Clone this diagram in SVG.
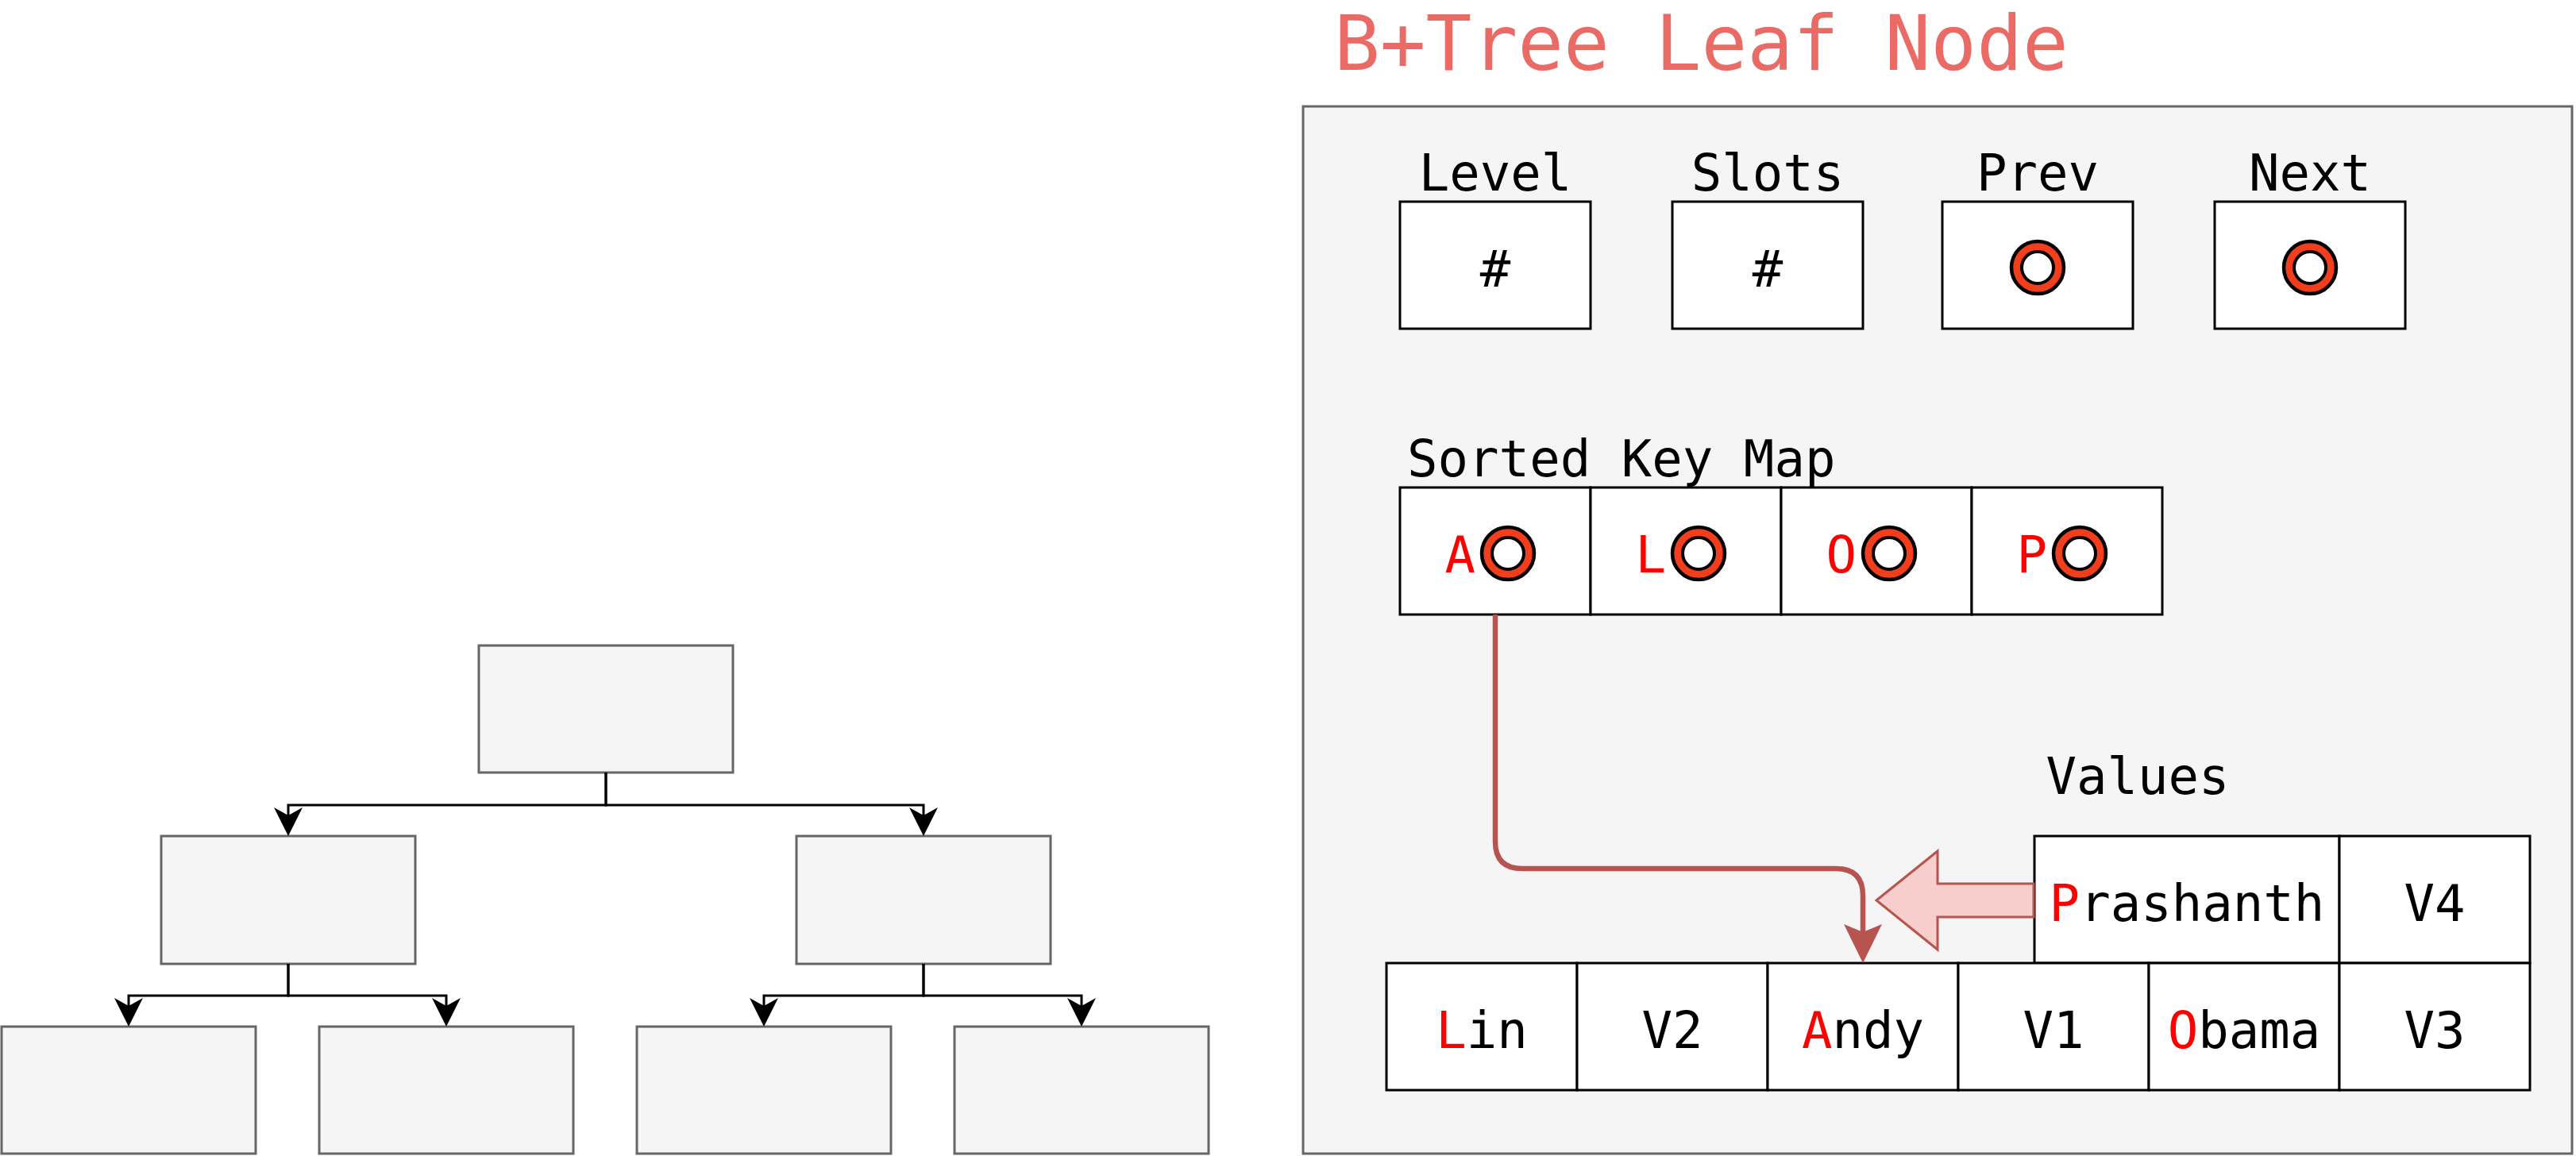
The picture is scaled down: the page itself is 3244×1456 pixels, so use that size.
<svg xmlns="http://www.w3.org/2000/svg" width="3244" height="1456" viewBox="0 0 3244 1456">
<style>
.tree{fill:#f5f5f5;stroke:#666666;stroke-width:3}
.cell{fill:#ffffff;stroke:#000000;stroke-width:3}
.t{font-family:"DejaVu Sans Mono","Liberation Mono",monospace;font-size:64px;fill:#000000}
.mid{text-anchor:middle}
.r{fill:#ff0000}
.ring{fill:#f23e1c;stroke:#000000;stroke-width:4.5}
.hole{fill:#ffffff;stroke:#000000;stroke-width:4}
.edge{fill:none;stroke:#000000;stroke-width:3}
.redge{fill:none;stroke:#b85450;stroke-width:6.5}
</style>
<defs>
<marker id="ah" viewBox="0 0 36 36" markerWidth="36" markerHeight="36" refX="10" refY="18" orient="auto" markerUnits="userSpaceOnUse">
<path d="M0,0 L36,18 L0,36 L10,18 Z" fill="#000000"/>
</marker>
<marker id="rah" viewBox="0 0 49 48" markerWidth="49" markerHeight="48" refX="10" refY="24" orient="auto" markerUnits="userSpaceOnUse">
<path d="M0,0 L49,24 L0,48 L10,24 Z" fill="#b85450"/>
</marker>
</defs>
<rect width="3244" height="1456" fill="#ffffff"/>

<g id="tree-root"><rect class="tree" x="603" y="813" width="320" height="160"/></g>
<g id="tree-l1-left"><rect class="tree" x="203" y="1053" width="320" height="161"/></g>
<g id="tree-l1-right"><rect class="tree" x="1003" y="1053" width="320" height="161"/></g>
<g id="tree-leaf-1"><rect class="tree" x="2" y="1293" width="320" height="160"/></g>
<g id="tree-leaf-2"><rect class="tree" x="402" y="1293" width="320" height="160"/></g>
<g id="tree-leaf-3"><rect class="tree" x="802" y="1293" width="320" height="160"/></g>
<g id="tree-leaf-4"><rect class="tree" x="1202" y="1293" width="320" height="160"/></g>

<g id="leaf-container">
<rect x="1641" y="134" width="1598" height="1319" fill="#f5f5f5" stroke="#666666" stroke-width="3"/>
</g>
<g id="title"><text class="t" x="1680" y="88" style="font-size:96px;fill:#ea6b66">B+Tree Leaf Node</text></g>

<g id="level">
<text class="t mid" x="1883" y="240">Level</text>
<rect class="cell" x="1763" y="254" width="240" height="160"/>
<text class="t mid" x="1883" y="361">#</text>
</g>
<g id="slots">
<text class="t mid" x="2226" y="240">Slots</text>
<rect class="cell" x="2106" y="254" width="240" height="160"/>
<text class="t mid" x="2226" y="361">#</text>
</g>
<g id="prev">
<text class="t mid" x="2566" y="240">Prev</text>
<rect class="cell" x="2446" y="254" width="240" height="160"/>
<circle class="ring" cx="2566" cy="337" r="33"/><circle class="hole" cx="2566" cy="337" r="20"/>
</g>
<g id="next">
<text class="t mid" x="2909" y="240">Next</text>
<rect class="cell" x="2789" y="254" width="240" height="160"/>
<circle class="ring" cx="2909" cy="337" r="33"/><circle class="hole" cx="2909" cy="337" r="20"/>
</g>

<g id="sorted-key-map">
<text class="t" x="1772" y="600">Sorted Key Map</text>
<rect class="cell" x="1763" y="614" width="240" height="160"/>
<rect class="cell" x="2003" y="614" width="240" height="160"/>
<rect class="cell" x="2243" y="614" width="240" height="160"/>
<rect class="cell" x="2483" y="614" width="240" height="160"/>
<text class="t r" x="1858" y="721" text-anchor="end">A</text>
<text class="t r" x="2098" y="721" text-anchor="end">L</text>
<text class="t r" x="2338" y="721" text-anchor="end">O</text>
<text class="t r" x="2578" y="721" text-anchor="end">P</text>
<circle class="ring" cx="1899" cy="697" r="33"/><circle class="hole" cx="1899" cy="697" r="20"/>
<circle class="ring" cx="2139" cy="697" r="33"/><circle class="hole" cx="2139" cy="697" r="20"/>
<circle class="ring" cx="2379" cy="697" r="33"/><circle class="hole" cx="2379" cy="697" r="20"/>
<circle class="ring" cx="2619" cy="697" r="33"/><circle class="hole" cx="2619" cy="697" r="20"/>
</g>

<g id="values">
<text class="t mid" x="2692" y="1000">Values</text>
<rect class="cell" x="2562" y="1053" width="384" height="160"/>
<rect class="cell" x="2946" y="1053" width="240" height="160"/>
<text class="t mid" x="2754" y="1160"><tspan class="r">P</tspan>rashanth</text>
<text class="t mid" x="3066" y="1160">V4</text>
</g>

<g id="value-row">
<rect class="cell" x="1746" y="1213" width="240" height="160"/>
<rect class="cell" x="1986" y="1213" width="240" height="160"/>
<rect class="cell" x="2226" y="1213" width="240" height="160"/>
<rect class="cell" x="2466" y="1213" width="240" height="160"/>
<rect class="cell" x="2706" y="1213" width="240" height="160"/>
<rect class="cell" x="2946" y="1213" width="240" height="160"/>
<text class="t mid" x="1866" y="1320"><tspan class="r">L</tspan>in</text>
<text class="t mid" x="2106" y="1320">V2</text>
<text class="t mid" x="2346" y="1320"><tspan class="r">A</tspan>ndy</text>
<text class="t mid" x="2586" y="1320">V1</text>
<text class="t mid" x="2826" y="1320"><tspan class="r">O</tspan>bama</text>
<text class="t mid" x="3066" y="1320">V3</text>
</g>

<g id="insert-arrow">
<polygon points="2363,1134 2440,1072 2440,1113 2561,1113 2561,1155 2440,1155 2440,1196" fill="#f8cecc" stroke="#b85450" stroke-width="3" stroke-linejoin="miter"/>
</g>

<g id="connectors">
<path class="edge" d="M763,973 V1014 H363 V1027" marker-end="url(#ah)"/>
<path class="edge" d="M763,973 V1014 H1163 V1027" marker-end="url(#ah)"/>
<path class="edge" d="M363,1214 V1254 H162 V1267" marker-end="url(#ah)"/>
<path class="edge" d="M363,1214 V1254 H562 V1267" marker-end="url(#ah)"/>
<path class="edge" d="M1163,1214 V1254 H962 V1267" marker-end="url(#ah)"/>
<path class="edge" d="M1163,1214 V1254 H1362 V1267" marker-end="url(#ah)"/>
<path class="redge" d="M1883,774 V1060 Q1883,1094 1917,1094 H2312 Q2346,1094 2346,1128 V1174" marker-end="url(#rah)"/>
</g>
</svg>
